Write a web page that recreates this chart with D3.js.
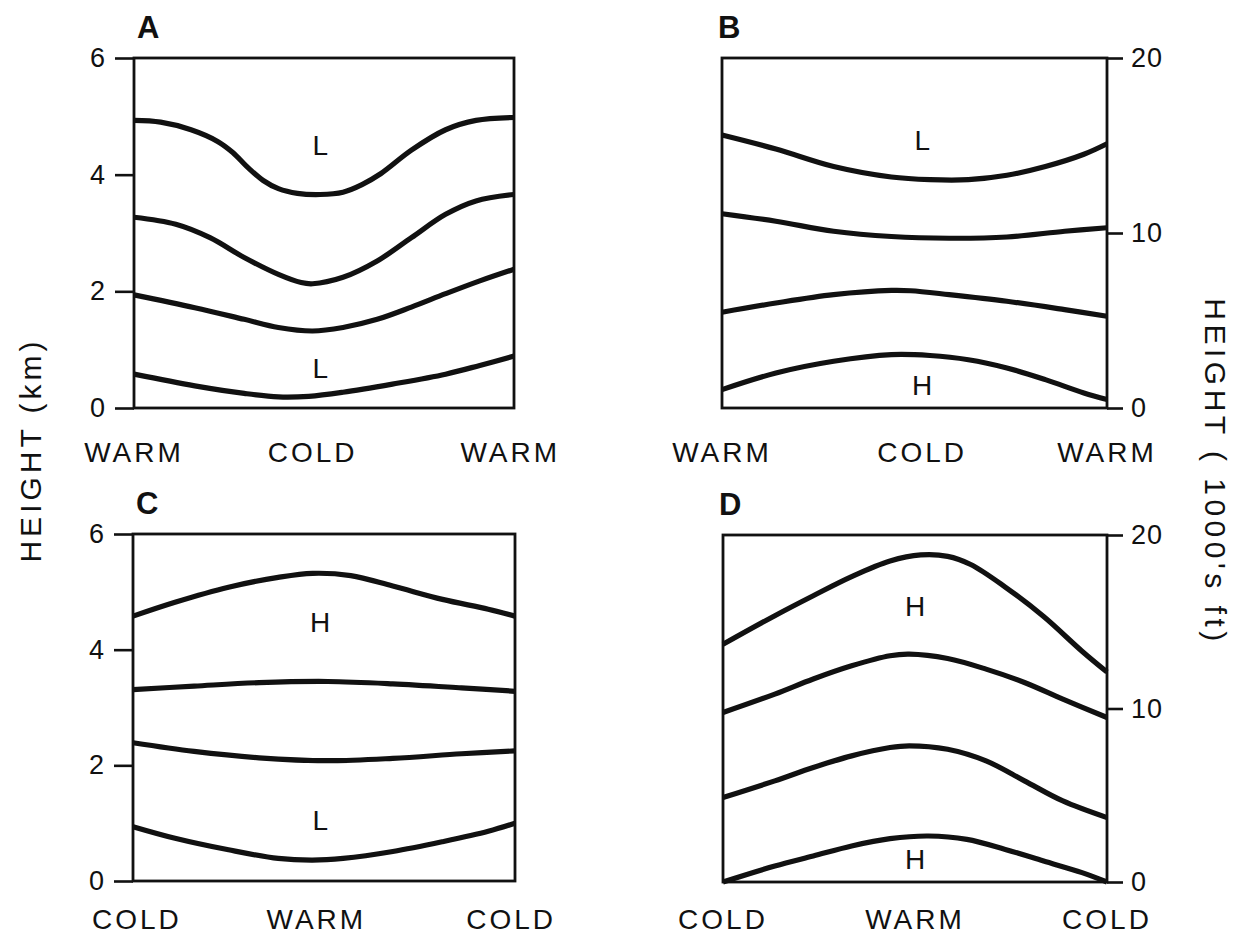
<!DOCTYPE html>
<html>
<head>
<meta charset="utf-8">
<script src="https://cdn.jsdelivr.net/npm/d3@7"></script>
<style>
  html, body { margin: 0; padding: 0; background: #fff; }
  svg { display: block; }
  text { font-family: "Liberation Sans", Arial, Helvetica, sans-serif; fill: #111; }
</style>
</head>
<body>
<svg id="chart" width="1241" height="934"></svg>
<script>
// ---------------- DATA ----------------
const panelLetters = ["A", "B", "C", "D"];

// x position is a relative distance across the section (0 = left edge, 100 = right edge)
const xCategoriesA = ["WARM", "COLD", "WARM"];
const xCategoriesB = ["WARM", "COLD", "WARM"];
const xCategoriesC = ["COLD", "WARM", "COLD"];
const xCategoriesD = ["COLD", "WARM", "COLD"];
const xCategoryPosA = [0, 47, 99];
const xCategoryPosB = [0, 52, 100];
const xCategoryPosC = [1, 48, 99];
const xCategoryPosD = [0, 50, 100];

const kmTicks = [0, 2, 4, 6];
const kftTicks = [0, 10, 20];

// Panel A (km)
const curvesA = [
  [[0,4.93],[7,4.9],[15,4.77],[22,4.57],[26,4.38],[30,4.12],[34,3.9],[38,3.76],[43,3.68],[49,3.66],[55,3.7],[60,3.83],[65,4.02],[73,4.42],[82,4.77],[90,4.93],[100,4.98]],
  [[0,3.27],[11,3.15],[20,2.92],[29,2.58],[38,2.29],[44,2.15],[47,2.13],[55,2.24],[64,2.52],[73,2.92],[82,3.32],[90,3.55],[100,3.66]],
  [[0,1.94],[16,1.72],[29,1.52],[38,1.38],[47,1.32],[55,1.38],[64,1.52],[73,1.73],[82,1.96],[91,2.18],[100,2.38]],
  [[0,0.58],[16,0.38],[29,0.25],[38,0.19],[46,0.2],[55,0.27],[68,0.41],[82,0.58],[91,0.73],[100,0.89]]
];
// Panel B (1000's ft)
const curvesB = [
  [[0,15.6],[14,14.8],[29,13.8],[44,13.2],[54,13.05],[64,13.05],[74,13.3],[84,13.8],[94,14.5],[100,15.1]],
  [[0,11.1],[14,10.67],[29,10.1],[44,9.8],[59,9.7],[74,9.77],[89,10.1],[100,10.3]],
  [[0,5.47],[14,6.0],[29,6.48],[44,6.72],[49,6.7],[59,6.48],[74,6.1],[89,5.62],[100,5.24]],
  [[0,1.05],[14,2.0],[29,2.67],[44,3.05],[54,3.0],[64,2.76],[74,2.29],[84,1.62],[94,0.86],[100,0.48]]
];
// Panel C (km)
const curvesC = [
  [[0,4.58],[11,4.82],[25,5.08],[38,5.25],[47,5.32],[57,5.28],[68,5.1],[81,4.87],[93,4.7],[100,4.58]],
  [[0,3.31],[16,3.37],[33,3.43],[51,3.45],[68,3.41],[86,3.34],[100,3.28]],
  [[0,2.39],[16,2.24],[33,2.13],[51,2.08],[68,2.12],[86,2.2],[100,2.25]],
  [[0,0.94],[11,0.74],[25,0.54],[38,0.39],[47,0.36],[55,0.39],[68,0.51],[81,0.68],[93,0.86],[100,1.0]]
];
// Panel D (1000's ft)
const curvesD = [
  [[0,13.7],[13.5,15.35],[23.5,16.5],[33.5,17.6],[43.5,18.5],[51.5,18.85],[58.5,18.77],[64.5,18.3],[73.5,17.0],[83.5,15.3],[93.5,13.3],[100,12.1]],
  [[0,9.77],[13.5,10.83],[23.5,11.7],[33.5,12.46],[43.5,13.04],[48.5,13.13],[58.5,12.88],[68.5,12.27],[78.5,11.5],[88.5,10.54],[100,9.48]],
  [[0,4.87],[13.5,5.83],[23.5,6.6],[33.5,7.27],[43.5,7.75],[48.5,7.85],[58.5,7.65],[68.5,6.98],[78.5,5.83],[88.5,4.67],[100,3.71]],
  [[0,0],[13.5,0.92],[23.5,1.5],[33.5,2.08],[43.5,2.5],[53.5,2.65],[63.5,2.46],[73.5,1.88],[83.5,1.21],[93.5,0.54],[100,0]]
];

// Pressure centre labels
const labelsA = [{text:"L", x:49, y:4.5}, {text:"L", x:49, y:0.67}];
const labelsB = [{text:"L", x:52, y:15.3}, {text:"H", x:52, y:1.3}];
const labelsC = [{text:"H", x:49, y:4.47}, {text:"L", x:49, y:1.05}];
const labelsD = [{text:"H", x:50, y:15.9}, {text:"H", x:50, y:1.3}];

const leftAxisTitle = "HEIGHT (km)";
const rightAxisTitle = "HEIGHT ( 1000's ft)";

// ---------------- LAYOUT ----------------
const panels = [
  {letter: panelLetters[0], x: 134, y: 58,  w: 380, h: 350, side: "left",  bottomPad: 54, domain: [0, 6],  ticks: kmTicks,  curves: curvesA, labels: labelsA, cats: xCategoriesA, catPos: xCategoryPosA},
  {letter: panelLetters[1], x: 722, y: 58,  w: 385, h: 350, side: "right", bottomPad: 54, domain: [0, 20], ticks: kftTicks, curves: curvesB, labels: labelsB, cats: xCategoriesB, catPos: xCategoryPosB},
  {letter: panelLetters[2], x: 133, y: 534, w: 382, h: 347, side: "left",  bottomPad: 48, domain: [0, 6],  ticks: kmTicks,  curves: curvesC, labels: labelsC, cats: xCategoriesC, catPos: xCategoryPosC},
  {letter: panelLetters[3], x: 723, y: 535, w: 384, h: 347, side: "right", bottomPad: 47, domain: [0, 20], ticks: kftTicks, curves: curvesD, labels: labelsD, cats: xCategoriesD, catPos: xCategoryPosD}
];

const svg = d3.select("#chart");

panels.forEach(p => {
  const g = svg.append("g").attr("transform", `translate(${p.x},${p.y})`);
  const x = d3.scaleLinear().domain([0, 100]).range([0, p.w]);
  const y = d3.scaleLinear().domain(p.domain).range([p.h, 0]);

  // frame
  g.append("rect")
    .attr("x", 0).attr("y", 0).attr("width", p.w).attr("height", p.h)
    .attr("fill", "none").attr("stroke", "#111").attr("stroke-width", 2.8);

  // y axis
  const axis = (p.side === "left" ? d3.axisLeft(y).tickSize(19).tickPadding(9)
                                  : d3.axisRight(y).tickSize(16).tickPadding(8))
    .tickValues(p.ticks).tickFormat(d3.format("d"));
  const ag = g.append("g")
    .attr("transform", p.side === "left" ? "translate(0,0)" : `translate(${p.w},0)`)
    .call(axis);
  ag.select(".domain").remove();
  ag.selectAll(".tick line").attr("stroke", "#111").attr("stroke-width", 2.6);
  ag.selectAll(".tick text")
    .attr("fill", "#111")
    .style("font-family", '"Liberation Sans", Arial, sans-serif')
    .style("font-size", "27px")
    .style("letter-spacing", "1px");

  // curves
  const line = d3.line().x(d => x(d[0])).y(d => y(d[1])).curve(d3.curveCatmullRom.alpha(0.5));
  g.selectAll("path.curve").data(p.curves).enter().append("path")
    .attr("class", "curve")
    .attr("d", line)
    .attr("fill", "none").attr("stroke", "#111")
    .attr("stroke-width", 5.2).attr("stroke-linejoin", "round").attr("stroke-linecap", "butt");

  // pressure labels
  g.selectAll("text.centre").data(p.labels).enter().append("text")
    .attr("class", "centre")
    .attr("x", d => x(d.x)).attr("y", d => y(d.y))
    .attr("text-anchor", "middle").attr("dominant-baseline", "central")
    .style("font-size", "28px")
    .text(d => d.text);

  // x category labels
  g.selectAll("text.cat").data(p.cats).enter().append("text")
    .attr("class", "cat")
    .attr("x", (d, i) => x(p.catPos[i]))
    .attr("y", p.h + p.bottomPad)
    .attr("text-anchor", "middle")
    .style("font-size", "28px").style("letter-spacing", "3px")
    .text(d => d);

  // panel letter
  g.append("text")
    .attr("x", p.side === "left" ? 3 : -4).attr("y", -20)
    .style("font-size", "31px").style("font-weight", "bold")
    .text(p.letter);
});

// axis titles
svg.append("text")
  .attr("transform", "translate(30,450) rotate(-90)")
  .attr("text-anchor", "middle").attr("dominant-baseline", "central")
  .style("font-size", "30px").style("letter-spacing", "4px")
  .text(leftAxisTitle);

svg.append("text")
  .attr("transform", "translate(1215,472) rotate(90)")
  .attr("text-anchor", "middle").attr("dominant-baseline", "central")
  .style("font-size", "30px").style("letter-spacing", "4.5px")
  .text(rightAxisTitle);
</script>
</body>
</html>
